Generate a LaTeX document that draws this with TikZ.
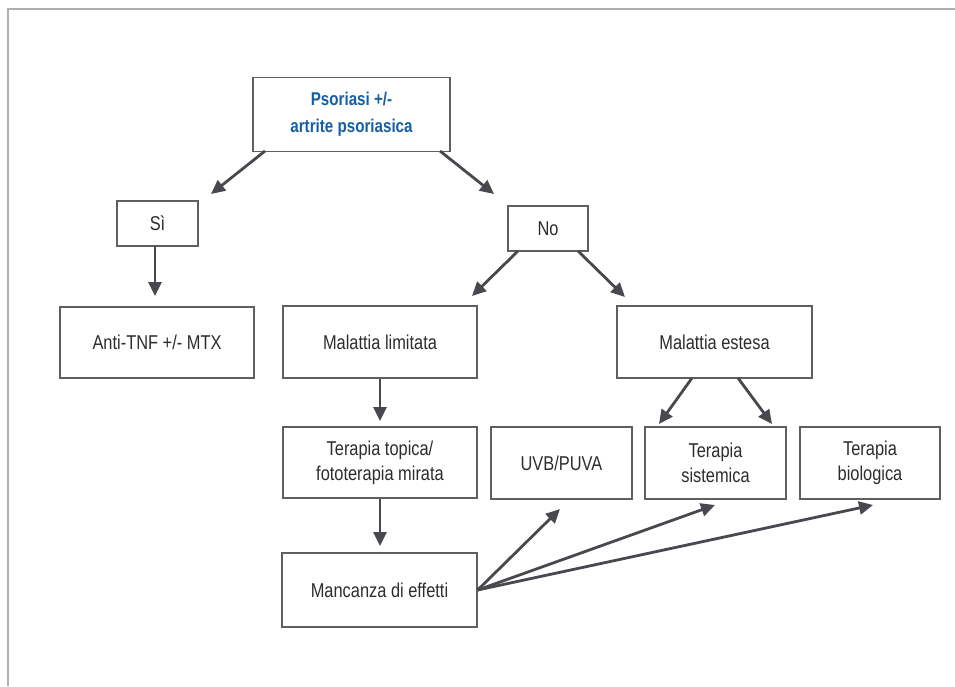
\documentclass[tikz,border=0pt]{standalone}
\usepackage{fontspec}
\setmainfont{Liberation Sans}[FakeStretch=0.82]
\usetikzlibrary{arrows.meta}
\definecolor{boxline}{RGB}{95,95,95}
\definecolor{arr}{RGB}{72,72,78}
\definecolor{txt}{RGB}{45,45,45}
\definecolor{ttl}{RGB}{20,95,165}
\definecolor{frame}{RGB}{175,175,175}
\begin{document}
\begin{tikzpicture}[x=1pt,y=-1pt,
  bx/.style={draw=boxline,line width=1.3pt,fill=white,inner sep=0pt,align=center,text=txt,font=\fontsize{20}{25}\selectfont},
  ttlbox/.style={bx,text=ttl,font=\bfseries\fontsize{18.5}{27}\selectfont},
  ar/.style={draw=arr,line width=2.8pt,-{Triangle[length=14pt,width=13pt]}}]
\useasboundingbox (0,0) rectangle (955,686);
\draw[frame,line width=1.6pt] (8,686) -- (8,9) -- (955,9);
\node[ttlbox,minimum width=197pt,minimum height=74pt] (ps) at (351.5,114.5) {Psoriasi +/-\\artrite psoriasica};
\node[bx,minimum width=81pt,minimum height=45pt] (si) at (157.5,223.5) {Sì};
\node[bx,minimum width=80pt,minimum height=45pt] (no) at (548,228.5) {No};
\node[bx,minimum width=194pt,minimum height=71pt] (anti) at (157,342.5) {Anti-TNF +/- MTX};
\node[bx,minimum width=194pt,minimum height=72pt] (lim) at (380,342) {Malattia limitata};
\node[bx,minimum width=195pt,minimum height=72pt] (est) at (714.5,342) {Malattia estesa};
\node[bx,minimum width=194pt,minimum height=71pt] (top) at (380,462.5) {Terapia topica/\\fototerapia mirata};
\node[bx,minimum width=141pt,minimum height=72pt] (uvb) at (561.5,463) {UVB/PUVA};
\node[bx,minimum width=141pt,minimum height=72pt] (sis) at (715.5,463) {Terapia\\sistemica};
\node[bx,minimum width=140pt,minimum height=72pt] (bio) at (870,463) {Terapia\\biologica};
\node[bx,minimum width=195pt,minimum height=74pt] (man) at (379.5,590) {Mancanza di effetti};
\coordinate (psl) at (265,151);
\coordinate (psr) at (440,151);
\coordinate (sib) at (155,246);
\coordinate (nol) at (518,251);
\coordinate (nor) at (578,251);
\coordinate (estl) at (692,378);
\coordinate (estr) at (738,378);
\draw[ar] (psl) -- (211,194);
\draw[ar] (psr) -- (494,194);
\draw[ar] (sib) -- (155,296);
\draw[ar] (nol) -- (472,296);
\draw[ar] (nor) -- (625,297);
\draw[ar] (lim.south) -- (380,421);
\draw[ar] (estl) -- (659,424);
\draw[ar] (estr) -- (772,424);
\draw[ar] (top.south) -- (380,546);
\draw[ar] (man.east) -- (560,509);
\draw[ar] (man.east) -- (715,505);
\draw[ar] (man.east) -- (873,505);
\end{tikzpicture}
\end{document}
